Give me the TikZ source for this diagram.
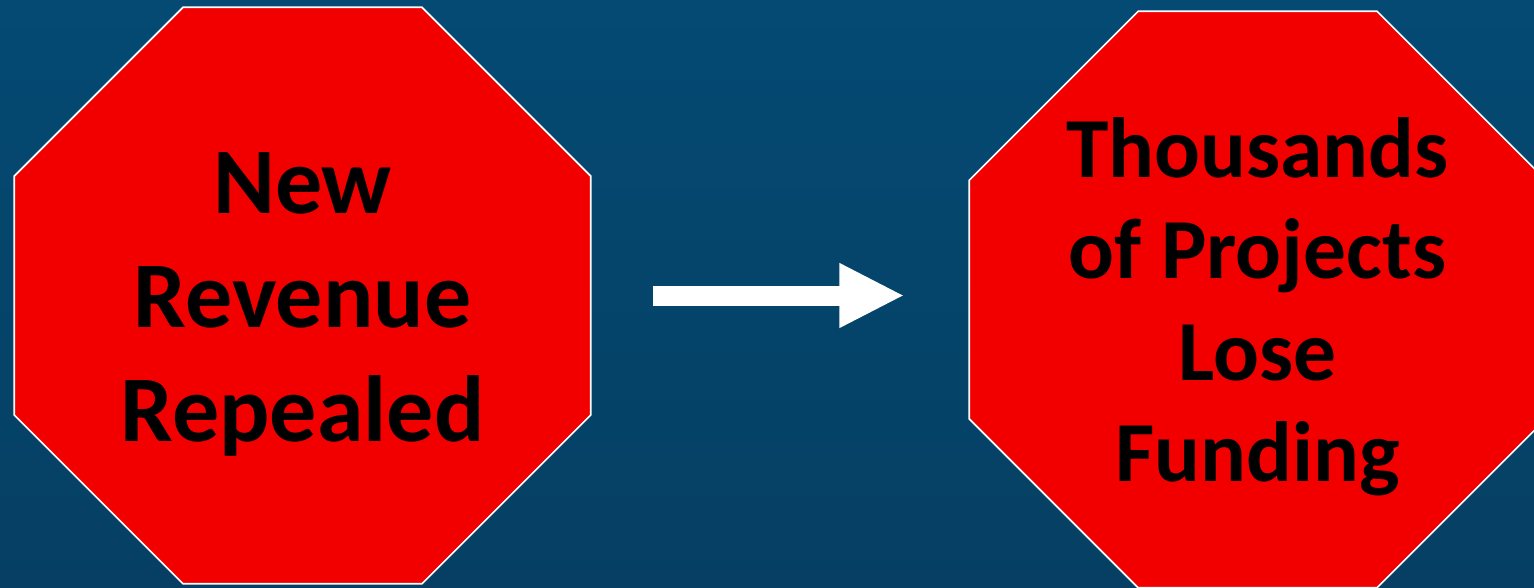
\documentclass[tikz,border=0pt]{standalone}
\usepackage{fontspec}
\setmainfont{Carlito}
\usepackage{xcolor}
\usetikzlibrary{arrows.meta,shapes.geometric}

\definecolor{bgtop}{RGB}{4,74,115}
\definecolor{bgbottom}{RGB}{6,63,99}
\definecolor{stopred}{RGB}{242,0,0}

\tikzset{
	stopsign/.style={regular polygon, regular polygon sides=8,
		minimum size=624pt, inner sep=0pt, fill=stopred, draw=white,
		line width=1.6pt},
	signtext/.style={text=black, align=center, inner sep=0pt},
	bigarrow/.style={white, line width=20pt,
		-{Triangle[length=65pt,width=60pt]}}
}

\begin{document}
\begin{tikzpicture}[x=1pt,y=-1pt]
		% Background
		\shade[top color=bgtop, bottom color=bgbottom] (0,0) rectangle (1534,587);
		\useasboundingbox (0,0) rectangle (1534,587);
		
		% Left sign
		\node[stopsign] (repeal) at (302.5,295.5) {};
		\node[signtext, font=\fontsize{94}{114}\selectfont\bfseries] (repealtext)
			at ([yshift=-9pt]repeal.center) {New\\Revenue\\Repealed};
		
		% Right sign (cut off at right and bottom)
		\begin{scope}
			\clip (0,0) rectangle (1534,587);
			\node[stopsign] (funding) at (1257.5,299.5) {};
		\end{scope}
		\node[signtext, font=\fontsize{85.5}{101.5}\selectfont\bfseries] (fundingtext)
			at ([yshift=-7pt]funding.center) {Thousands\\of Projects\\Lose\\Funding};
		
		% Arrow between the signs
		\draw[bigarrow, shorten <=61pt, shorten >=64pt] (repeal.east) -- (repeal.east -| funding.west);
	\end{tikzpicture}
\end{document}
